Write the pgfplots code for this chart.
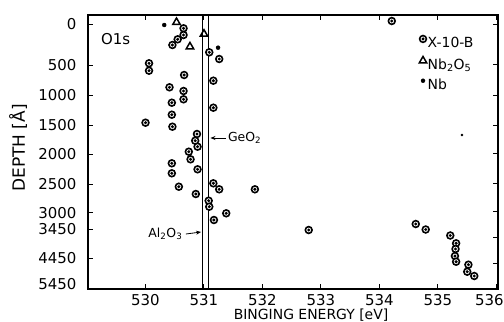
\documentclass[border=0pt]{standalone}
\usepackage{pgfplots}
\pgfplotsset{compat=1.18}
\usepackage{fontspec}
\setmainfont{DejaVu Sans}
\usetikzlibrary{arrows.meta}

\pgfdeclareplotmark{bullseye}{%
  \begin{pgfscope}%
  \pgfsetfillcolor{white}%
  \pgfpathcircle{\pgfpointorigin}{\pgfplotmarksize}%
  \pgfusepathqfillstroke
  \end{pgfscope}%
  \begin{pgfscope}%
  \pgfsetfillcolor{black}%
  \pgfpathcircle{\pgfpointorigin}{0.5\pgfplotmarksize}%
  \pgfusepathqfill
  \end{pgfscope}}

\begin{document}
\begin{tikzpicture}
\useasboundingbox (-88bp,-33bp) rectangle (416bp,289bp);
\begin{axis}[
  at={(0,0)}, anchor=south west,
  scale only axis, width=410bp, height=274bp,
  xmin=529.017, xmax=536.026, ymin=15, ymax=289, y dir=reverse,
  clip=false,
  xtick={530,531,532,533,534,535},
  extra x ticks={536}, extra x tick style={xticklabel style={xshift=-7bp}},
  ytick={24,65,95,125,154,184,212.7,229,258},
  yticklabels={0,500,1000,1500,2000,2500,3000,3450,4450},
  extra y ticks={284}, extra y tick labels={5450},
  extra y tick style={major tick length=0pt},
  ytick pos=left, xtick pos=both,
  tick align=inside, major tick length=5bp,
  axis line style={line width=1.4bp},
  every tick/.style={line width=1bp, black},
  /pgf/number format/assume math mode=true,
  /pgf/number format/1000 sep={},
  xticklabel style={font=\fontsize{15}{15}\selectfont, yshift=-2bp},
  yticklabel style={font=\fontsize{15}{15}\selectfont, xshift=-8bp},
  xlabel={BINGING ENERGY [eV]},
  ylabel={DEPTH [Å]},
  every axis x label/.style={at={(axis description cs:0.544,0)}, anchor=base, yshift=-30bp, font=\fontsize{14}{14}\selectfont},
  every axis y label/.style={at={(axis description cs:-0.154,0.515)}, rotate=90, anchor=base, font=\fontsize{17}{17}\selectfont},
  legend style={draw=none, fill=none, inner sep=0pt, outer sep=0pt,
    at={(axis description cs:0.808,0.925)}, anchor=north west,
    font=\fontsize{14}{14}\selectfont, row sep=6bp,
    nodes={inner sep=1bp, text height=10bp, text depth=2bp},
    /tikz/every even column/.append style={column sep=5.5bp}},
  legend cell align=left,
  legend image code/.code={\draw[#1] plot coordinates {(0bp,4.5bp)};},
]
% X-10-B
\addplot[only marks, mark=bullseye, mark size=3.4bp, line width=1.6bp, draw=black] coordinates {
(530.65,28.3) (530.65,35) (530.55,39.3) (530.46,45) (531.09,52.3) (531.26,59)
(530.06,63.3) (530.06,70.7) (530.66,75) (531.16,80.7) (530.41,87.3) (530.65,91)
(530.65,99.3) (530.45,102.7) (531.16,107.7) (530.45,114.7) (530.00,122.7) (530.46,126.7)
(530.88,134) (530.85,140.7) (530.89,146.7) (530.74,151.7) (530.77,159.3) (530.45,163.3)
(530.45,173.3) (530.89,169.3) (530.57,186.7) (530.86,194) (531.16,183.3) (531.26,189.3)
(531.08,200.7) (531.09,206.7) (531.38,213.3) (531.17,220) (531.87,189.3) (532.79,230)
(534.62,224) (534.79,229.5) (535.21,235.5) (535.31,243.3) (535.30,249) (535.29,256)
(535.31,261.7) (535.52,264.7) (535.50,271.7) (535.62,276) (534.21,21)
};
\addlegendentry{X-10-B}
% Nb2O5
\addplot[only marks, mark=triangle, mark size=4.3bp, line width=1.5bp, draw=black, fill=white] coordinates {
(530.53,22.3) (530.76,46.7) (531.00,34)
};
\addlegendentry{Nb\textsubscript{2}O\textsubscript{5}}
% Nb
\addplot[only marks, mark=*, mark size=2bp, draw=black, fill=black] coordinates {
(530.32,25) (531.24,47.7)
};
\addlegendentry{Nb}
\addplot[only marks, mark=*, mark size=1bp, black, forget plot] coordinates {(535.41,135)};
% reference lines
\addplot[black, line width=1.2bp, forget plot] coordinates {(530.98,15) (530.98,289)};
\addplot[black, line width=1.2bp, forget plot] coordinates {(531.08,15) (531.08,289)};
% annotations
\node[anchor=center, font=\fontsize{15}{15}\selectfont] at (axis cs:529.49,39) {O1s};
\draw[-{Stealth[length=5bp,width=4bp]}, line width=0.8bp] (axis cs:531.376,138) -- (axis cs:531.11,138);
\node[anchor=west, font=\fontsize{12.5}{12.5}\selectfont, inner sep=1bp] at (axis cs:531.39,138) {GeO\textsubscript{2}};
\draw[-{Stealth[length=5bp,width=4bp]}, line width=0.8bp] (axis cs:530.69,234) -- (axis cs:530.95,232);
\node[anchor=east, font=\fontsize{12.5}{12.5}\selectfont, inner sep=1bp] at (axis cs:530.65,234) {Al\textsubscript{2}O\textsubscript{3}};
\end{axis}
\begin{axis}[
  at={(0,0)}, anchor=south west,
  scale only axis, width=410bp, height=274bp,
  xmin=529.017, xmax=536.026, ymin=15, ymax=289, y dir=reverse,
  axis y line*=right, axis x line=none,
  ytick={25,65,95,125,153,183,211,237,263}, yticklabels={},
  tick align=inside, major tick length=5bp,
  axis line style={line width=1.4bp},
  every tick/.style={line width=1bp, black},
]
\addplot[draw=none, forget plot] coordinates {(530,100)};
\end{axis}
\end{tikzpicture}
\end{document}
